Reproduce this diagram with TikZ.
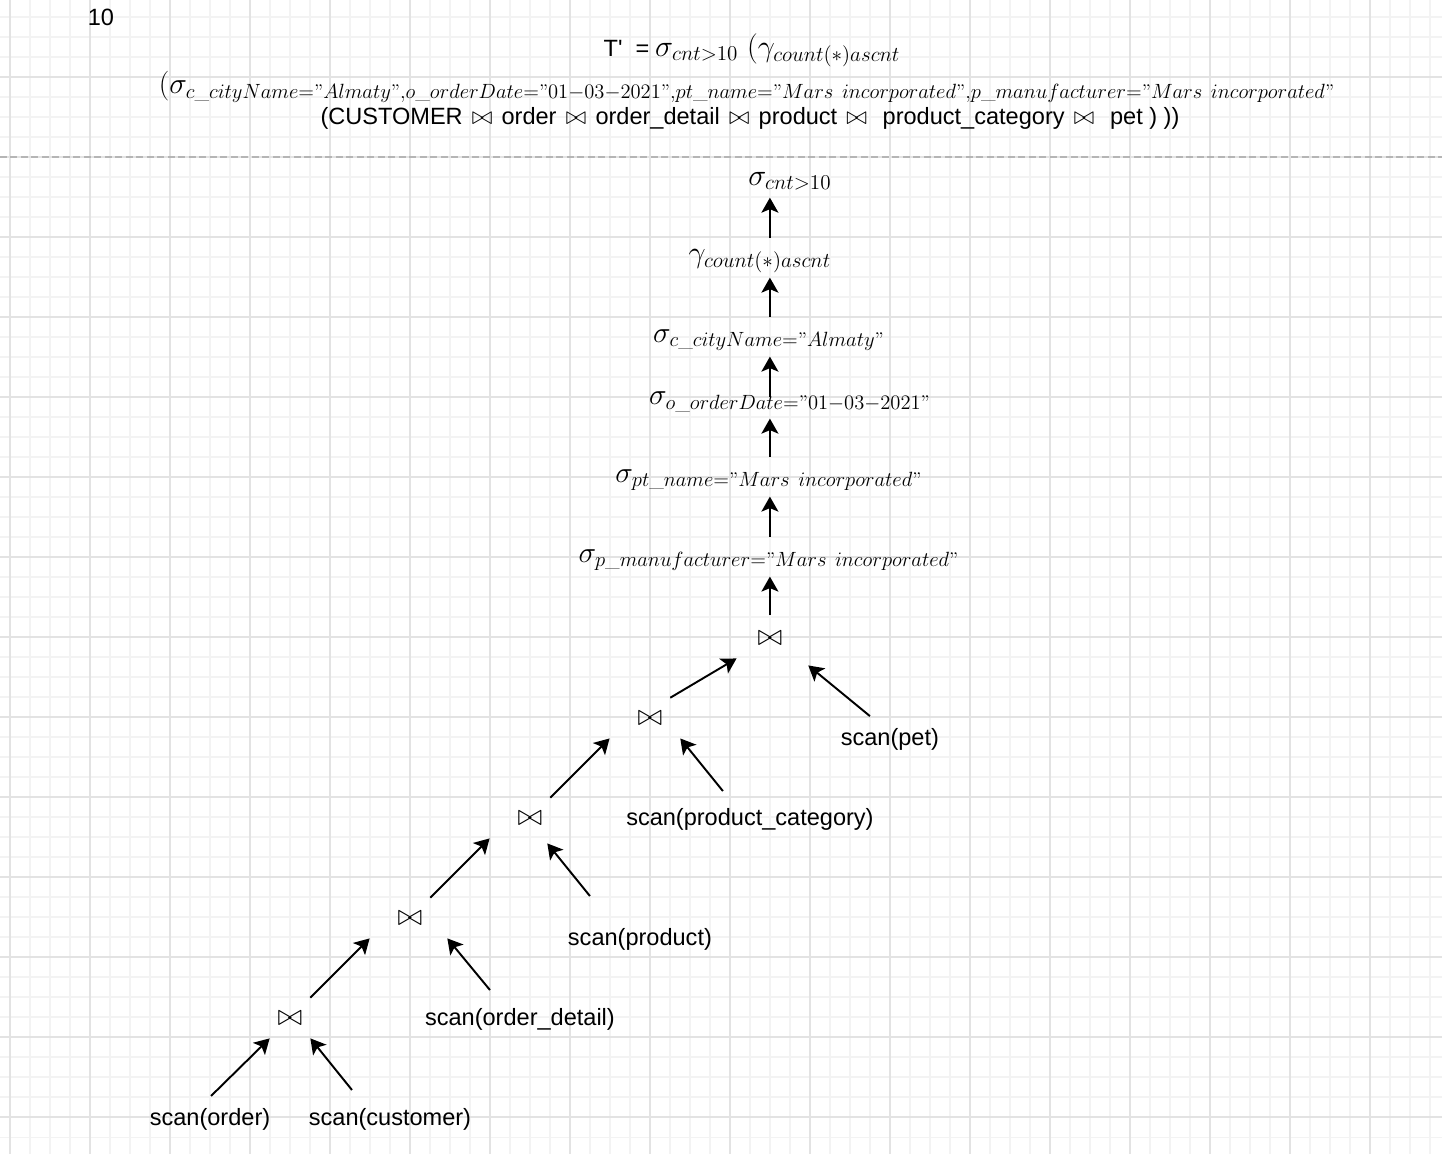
\documentclass[tikz,border=0pt]{standalone}
\usepackage{amsmath}
\usepackage{amssymb}
\usepackage{fontspec}
\newfontfamily\helv{Liberation Sans}
\usetikzlibrary{arrows.meta,positioning}

\definecolor{gridmajor}{HTML}{E3E3E3}
\definecolor{gridminor}{HTML}{F3F3F3}
\definecolor{sepgray}{HTML}{B5B5B5}

\newcommand{\q}{\text{''}}
\newcommand{\mathsz}{\fontsize{16.5}{20}\selectfont}
\newcommand{\txtsz}{\helv\fontsize{13.4}{16}\selectfont}
\newcommand{\jn}{\hspace{1.5pt}{\fontsize{15}{18}\selectfont$\bowtie$}\hspace{1.5pt}}
\newcommand{\fit}[1]{\scalebox{0.977}{#1}}

\begin{document}
\begin{tikzpicture}[x=0.02cm,y=-0.02cm,on grid,
    arr/.style={-{Stealth[length=0.3cm,width=0.34cm,inset=0.07cm]},line width=1.1pt},
    vshort/.style={shorten <=0.46cm,shorten >=0.33cm},
    joinop/.style={font=\mathsz,inner sep=0pt,minimum width=0.8cm,minimum height=0.8cm},
    sel/.style={font=\mathsz,inner sep=0pt},
    scan/.style={font=\txtsz,inner sep=0pt}]
	\useasboundingbox (0,0) rectangle (1442,1154);
	\fill[white] (0,0) rectangle (1442,1154);
	% grid
	\foreach \x in {10,30,...,1450} \draw[gridminor,line width=0.6pt] (\x,0) -- (\x,1154);
	\foreach \y in {17,37,...,1157} \draw[gridminor,line width=0.6pt] (0,\y) -- (1442,\y);
	\foreach \x in {10,90,...,1450} \draw[gridmajor,line width=0.9pt] (\x,0) -- (\x,1154);
	\foreach \y in {77,157,...,1157} \draw[gridmajor,line width=0.9pt] (0,\y) -- (1442,\y);
	\draw[sepgray,line width=0.6pt,dash pattern=on 0.14cm off 0.07cm] (0,157) -- (1442,157);
	
	% expression
	\node[font=\txtsz] (num) at (101,17) {10};
	\node (title) at (752,50) {{\txtsz T'\ \ =} {\mathsz$\sigma_{cnt>10}$\ $(\gamma_{count(*)ascnt}$}};
	\node[font=\mathsz] (titlesel) at (747,87) {\fit{$(\sigma_{c\_cityName=\q Almaty\q,o\_orderDate=\q 01-03-2021\q,pt\_name=\q Mars\ incorporated\q,p\_manufacturer=\q Mars\ incorporated\q}$}};
	\node[font=\txtsz] (titlejoin) at (750,118) {(CUSTOMER \jn{} order \jn{} order\_detail \jn{} product \jn{} \ product\_category \jn{} \ pet ) ))};
	
	% join tree
	\node[joinop] (j5) at (290,1018) {$\bowtie$};
	\node[joinop, above right=2cm and 2.4cm of j5] (j4) {$\bowtie$};
	\node[joinop, above right=2cm and 2.4cm of j4] (j3) {$\bowtie$};
	\node[joinop, above right=2cm and 2.4cm of j3] (j2) {$\bowtie$};
	\node[joinop, above right=1.6cm and 2.4cm of j2] (j1) {$\bowtie$};
	
	\node[scan, below left=2.02cm and 1.6cm of j5] (sorder) {scan(order)};
	\node[scan, below right=2.02cm and 2cm of j5] (scust) {scan(customer)};
	\node[scan, below right=2.02cm and 2.2cm of j4] (sdetail) {scan(order\_detail)};
	\node[scan, below right=2.42cm and 2.2cm of j3] (sprod) {scan(product)};
	\node[scan, below right=2.02cm and 2cm of j2] (scat) {scan(product\_category)};
	\node[scan, below right=2.02cm and 2.4cm of j1] (spet) {scan(pet)};
	
	\node[sel, above=1.56cm of j1, xshift=-0.02cm] (sigman) {\fit{$\sigma_{p\_manufacturer=\q Mars\ incorporated\q}$}};
	\node[sel, above=1.6cm of sigman] (sigpt) {\fit{$\sigma_{pt\_name=\q Mars\ incorporated\q}$}};
	\node[sel, above=1.56cm of sigpt, xshift=0.42cm] (sigdate) {\fit{$\sigma_{o\_orderDate=\q 01-03-2021\q}$}};
	\node[sel, above=1.24cm of sigdate, xshift=-0.42cm] (sigcity) {\fit{$\sigma_{c\_cityName=\q Almaty\q}$}};
	\node[sel, above=1.58cm of sigcity, xshift=-0.18cm] (gamma) {$\gamma_{count(*)ascnt}$};
	\node[sel, above=1.6cm of gamma, xshift=0.6cm] (sig10) {$\sigma_{cnt>10}$};
	
	\draw[arr] ([shift={(1,-23)}]sorder.center) -- (j5.south west);
	\draw[arr] ([shift={(-38,-29)}]scust.center) -- (j5.south east);
	\draw[arr] (j5.north east) -- ([shift={(-20,0)}]j4.south west);
	\draw[arr] ([shift={(-30,-29)}]sdetail.center) -- ([shift={(17,0)}]j4.south east);
	\draw[arr] (j4.north east) -- ([shift={(-20,0)}]j3.south west);
	\draw[arr] ([shift={(-50,-43)}]sprod.center) -- ([shift={(-3,5)}]j3.south east);
	\draw[arr] (j3.north east) -- ([shift={(-20,0)}]j2.south west);
	\draw[arr] ([shift={(-27,-28)}]scat.center) -- ([shift={(10,0)}]j2.south east);
	\draw[arr] (j2.north east) -- ([shift={(-13,0)}]j1.south west);
	\draw[arr] ([shift={(-20,-23)}]spet.center) -- ([shift={(18,7)}]j1.south east);
	
	\draw[arr,vshort] (j1.center) -- (j1 |- sigman);
	\draw[arr,vshort] (j1 |- sigman) -- (j1 |- sigpt);
	\draw[arr,vshort] (j1 |- sigpt) -- (j1 |- sigdate);
	\draw[arr,vshort,shorten <=0.1cm] (j1 |- sigdate) -- (j1 |- sigcity);
	\draw[arr,vshort] (j1 |- sigcity) -- (j1 |- gamma);
	\draw[arr,vshort] (j1 |- gamma) -- (j1 |- sig10);
\end{tikzpicture}
\end{document}
